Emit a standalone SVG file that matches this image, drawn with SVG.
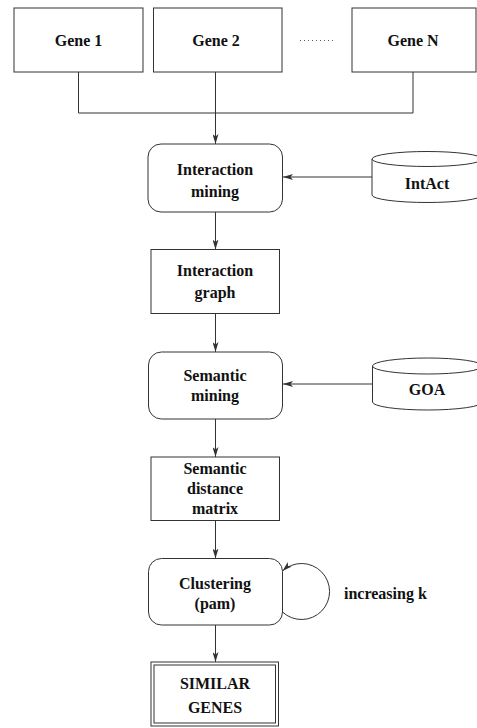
<svg xmlns="http://www.w3.org/2000/svg" width="477" height="728" viewBox="0 0 477 728">
<style>
.box{fill:#fff;stroke:#333;stroke-width:1}
.t{font-family:"Liberation Serif","Times New Roman",serif;font-weight:bold;font-size:16px;fill:#111;text-anchor:middle}
.c{fill:none;stroke:#333;stroke-width:1}
</style>
<defs>
<marker id="ah" viewBox="0 0 10 6" refX="10" refY="3" markerWidth="10" markerHeight="6" markerUnits="userSpaceOnUse" orient="auto">
<path d="M0,0 L10,3 L0,6 L2.5,3 Z" fill="#333"/>
</marker>
</defs>
<rect width="477" height="728" fill="#fff"/>
<g id="gene1"><rect class="box" x="14" y="8" width="129" height="64"/><text class="t" x="78.5" y="46">Gene 1</text></g>
<g id="gene2"><rect class="box" x="153.5" y="8" width="128.5" height="64"/><text class="t" x="216" y="46">Gene 2</text></g>
<g id="dots"><line x1="300" y1="40.5" x2="334" y2="40.5" stroke="#555" stroke-width="1" stroke-dasharray="1,3"/></g>
<g id="geneN"><rect class="box" x="352" y="8" width="124" height="64"/><text class="t" x="413" y="46">Gene N</text></g>
<g id="interaction-mining"><rect class="box" x="148" y="144" width="134.5" height="68" rx="13"/><text class="t" x="215" y="175">Interaction</text><text class="t" x="215" y="197">mining</text></g>
<g id="intact"><path class="box" d="M372,159 A55,7.5 0 0 1 482,159 L482,195 A55,7.5 0 0 1 372,195 Z"/><path class="c" d="M372,159 A55,7.5 0 0 0 482,159"/><text class="t" x="427" y="189">IntAct</text></g>
<g id="interaction-graph"><rect class="box" x="151" y="249.5" width="128.5" height="64"/><text class="t" x="215" y="276">Interaction</text><text class="t" x="215" y="298">graph</text></g>
<g id="semantic-mining"><rect class="box" x="148.5" y="352" width="134" height="67" rx="13"/><text class="t" x="215" y="381">Semantic</text><text class="t" x="215" y="401">mining</text></g>
<g id="goa"><path class="box" d="M372.5,366 A55,8 0 0 1 482.5,366 L482.5,402 A55,8 0 0 1 372.5,402 Z"/><path class="c" d="M372.5,366 A55,8 0 0 0 482.5,366"/><text class="t" x="427" y="395">GOA</text></g>
<g id="semantic-distance-matrix"><rect class="box" x="151" y="457" width="128.5" height="63.5"/><text class="t" x="215" y="473.5">Semantic</text><text class="t" x="215" y="493.5">distance</text><text class="t" x="215" y="514">matrix</text></g>
<g id="clustering"><rect class="box" x="148.5" y="558.5" width="134" height="66.5" rx="13"/><text class="t" x="215" y="588.5">Clustering</text><text class="t" x="215" y="608.5">(pam)</text></g>
<g id="loop-label"><text class="t" x="344" y="598.5" style="text-anchor:start">increasing k</text></g>
<g id="similar-genes"><rect class="box" x="151" y="662" width="127.5" height="64"/><rect class="box" x="154" y="665" width="121.5" height="58"/><text class="t" x="215" y="689">SIMILAR</text><text class="t" x="215" y="712.5">GENES</text></g>
<g id="connectors">
<path class="c" d="M78.5,72 V113 H413 V72"/>
<path class="c" d="M215.5,72 V144" marker-end="url(#ah)"/>
<path class="c" d="M372,177 H283" marker-end="url(#ah)"/>
<path class="c" d="M215.5,212 V249.5" marker-end="url(#ah)"/>
<path class="c" d="M215.5,313.5 V352" marker-end="url(#ah)"/>
<path class="c" d="M372.5,384 H283" marker-end="url(#ah)"/>
<path class="c" d="M215.5,419 V457" marker-end="url(#ah)"/>
<path class="c" d="M215.5,520.5 V558.5" marker-end="url(#ah)"/>
<path class="c" d="M282.5,612 A28,28 0 1 0 282.5,571" marker-end="url(#ah)"/>
<path class="c" d="M215.5,625 V662" marker-end="url(#ah)"/>
</g>
</svg>
